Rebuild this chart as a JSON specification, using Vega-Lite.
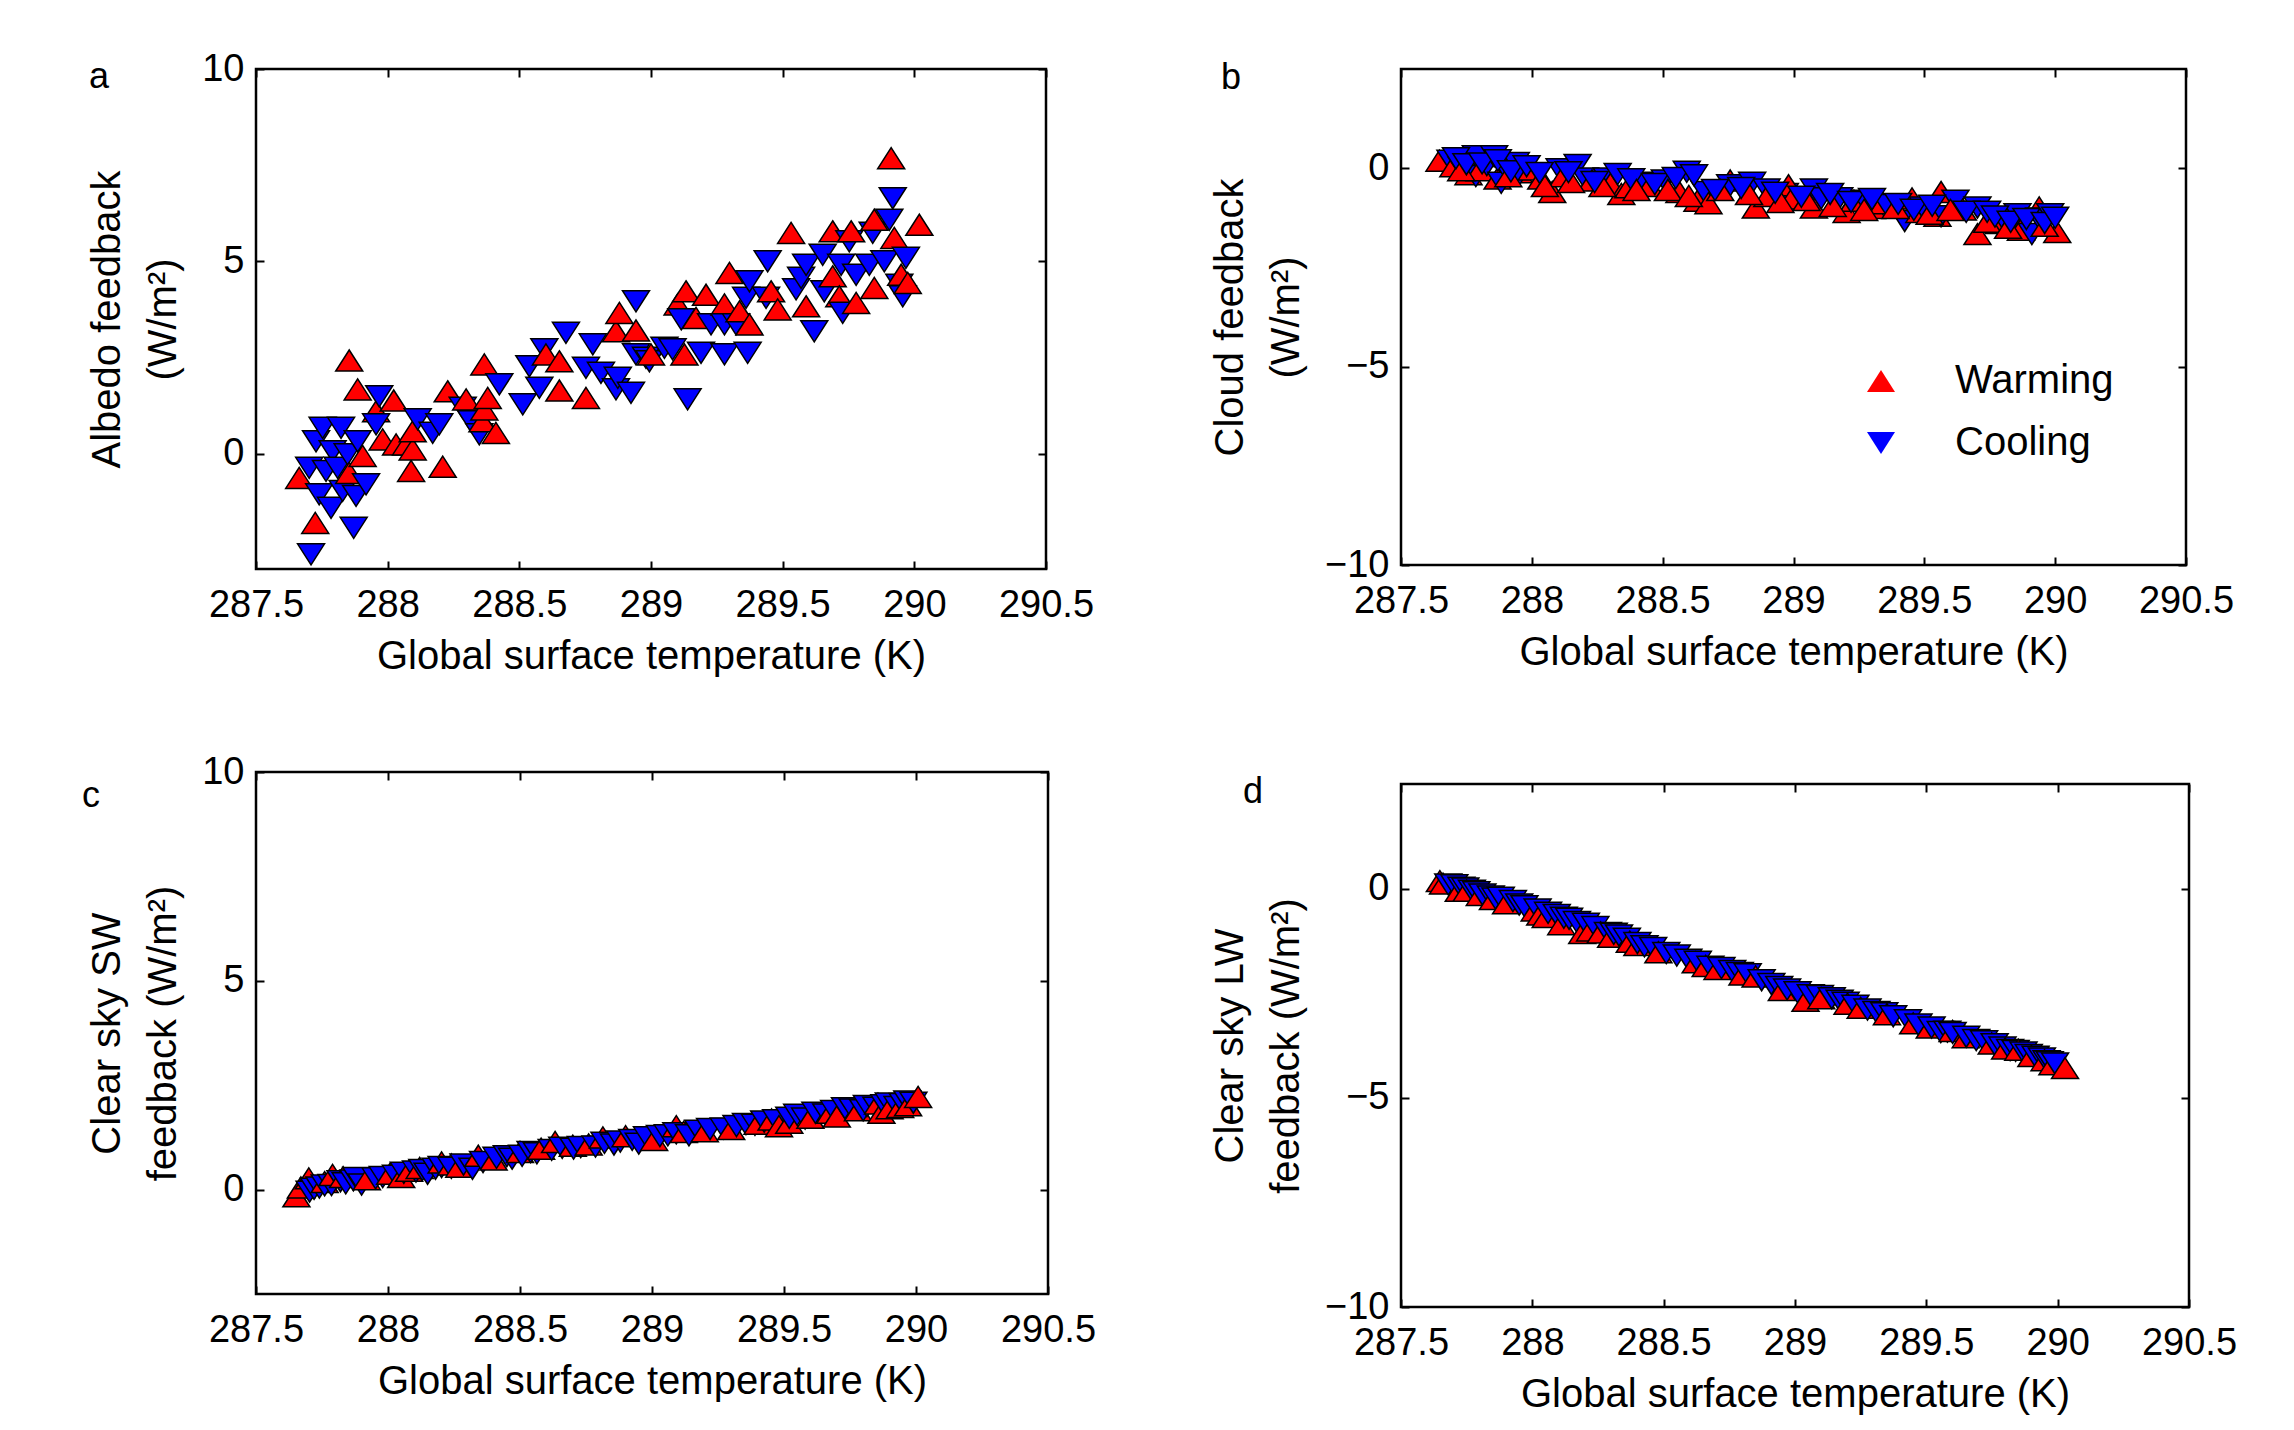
{
"$schema": "https://vega.github.io/schema/vega-lite/v6.json",
"background": "white",
"padding": {"left": 80, "top": 48, "right": 20, "bottom": 10},
"config": {
 "font": "Liberation Sans",
 "view": {"stroke": "black", "strokeWidth": 2.5},
 "axis": {"domain": false, "grid": false, "ticks": true, "tickSize": -8, "tickWidth": 2, "tickColor": "black", "labelFontSize": 38, "labelColor": "black", "labelFont": "Liberation Sans", "labelFlush": false, "labelOverlap": false, "labelBound": false, "titleFontSize": 40, "titleFontWeight": "normal", "titleColor": "black", "titleFont": "Liberation Sans", "titleLineHeight": 56},
 "axisX": {"labelPadding": 25, "titlePadding": 12},
 "axisY": {"labelPadding": 20, "titlePadding": 18},
 "title": {"fontSize": 36, "fontWeight": "normal", "color": "black", "font": "Liberation Sans", "anchor": "start", "frame": "group"}
},
"datasets": {
 "a": [
  {"T":287.664,"F":-0.63,"type":"Warming"},{"T":287.702,"F":-0.37,"type":"Cooling"},{"T":287.709,"F":-2.62,"type":"Cooling"},{"T":287.725,"F":-1.80,"type":"Warming"},{"T":287.728,"F":0.32,"type":"Cooling"},{"T":287.74,"F":-1.06,"type":"Cooling"},{"T":287.753,"F":0.67,"type":"Cooling"},{"T":287.766,"F":-0.45,"type":"Cooling"},{"T":287.785,"F":-1.41,"type":"Cooling"},{"T":287.791,"F":0.06,"type":"Cooling"},{"T":287.81,"F":-0.37,"type":"Cooling"},{"T":287.823,"F":0.67,"type":"Cooling"},{"T":287.829,"F":-0.97,"type":"Cooling"},{"T":287.848,"F":-0.02,"type":"Cooling"},{"T":287.854,"F":-0.50,"type":"Warming"},{"T":287.854,"F":2.42,"type":"Warming"},{"T":287.871,"F":-1.93,"type":"Cooling"},{"T":287.88,"F":-1.10,"type":"Cooling"},{"T":287.886,"F":1.67,"type":"Warming"},{"T":287.886,"F":0.32,"type":"Cooling"},{"T":287.905,"F":-0.06,"type":"Warming"},{"T":287.918,"F":-0.80,"type":"Cooling"},{"T":287.956,"F":1.10,"type":"Warming"},{"T":287.956,"F":0.76,"type":"Cooling"},{"T":287.968,"F":1.49,"type":"Cooling"},{"T":287.981,"F":0.37,"type":"Warming"},{"T":288.023,"F":1.38,"type":"Warming"},{"T":288.032,"F":0.24,"type":"Warming"},{"T":288.07,"F":0.24,"type":"Warming"},{"T":288.089,"F":-0.45,"type":"Warming"},{"T":288.095,"F":0.11,"type":"Warming"},{"T":288.095,"F":0.58,"type":"Warming"},{"T":288.114,"F":0.89,"type":"Cooling"},{"T":288.171,"F":0.54,"type":"Cooling"},{"T":288.196,"F":0.76,"type":"Cooling"},{"T":288.209,"F":-0.34,"type":"Warming"},{"T":288.228,"F":1.62,"type":"Warming"},{"T":288.285,"F":1.19,"type":"Cooling"},{"T":288.298,"F":1.41,"type":"Warming"},{"T":288.317,"F":0.84,"type":"Cooling"},{"T":288.348,"F":0.50,"type":"Cooling"},{"T":288.36,"F":0.84,"type":"Warming"},{"T":288.367,"F":2.32,"type":"Warming"},{"T":288.367,"F":1.15,"type":"Warming"},{"T":288.38,"F":1.45,"type":"Warming"},{"T":288.411,"F":0.54,"type":"Warming"},{"T":288.424,"F":1.80,"type":"Cooling"},{"T":288.513,"F":1.28,"type":"Cooling"},{"T":288.538,"F":2.27,"type":"Cooling"},{"T":288.576,"F":1.71,"type":"Cooling"},{"T":288.595,"F":2.71,"type":"Cooling"},{"T":288.601,"F":2.58,"type":"Warming"},{"T":288.652,"F":2.40,"type":"Warming"},{"T":288.652,"F":1.64,"type":"Warming"},{"T":288.677,"F":3.14,"type":"Cooling"},{"T":288.753,"F":1.45,"type":"Warming"},{"T":288.753,"F":2.23,"type":"Cooling"},{"T":288.779,"F":2.84,"type":"Cooling"},{"T":288.81,"F":2.10,"type":"Cooling"},{"T":288.867,"F":3.18,"type":"Warming"},{"T":288.867,"F":1.67,"type":"Cooling"},{"T":288.874,"F":1.97,"type":"Cooling"},{"T":288.88,"F":3.66,"type":"Warming"},{"T":288.924,"F":1.58,"type":"Cooling"},{"T":288.943,"F":3.20,"type":"Warming"},{"T":288.943,"F":2.58,"type":"Cooling"},{"T":288.943,"F":3.96,"type":"Cooling"},{"T":288.981,"F":2.49,"type":"Cooling"},{"T":288.994,"F":2.40,"type":"Cooling"},{"T":289.0,"F":2.58,"type":"Warming"},{"T":289.051,"F":2.75,"type":"Cooling"},{"T":289.082,"F":2.71,"type":"Cooling"},{"T":289.101,"F":3.88,"type":"Warming"},{"T":289.115,"F":3.49,"type":"Cooling"},{"T":289.127,"F":2.58,"type":"Warming"},{"T":289.133,"F":4.22,"type":"Warming"},{"T":289.139,"F":1.41,"type":"Cooling"},{"T":289.171,"F":3.53,"type":"Warming"},{"T":289.19,"F":2.62,"type":"Cooling"},{"T":289.209,"F":4.13,"type":"Warming"},{"T":289.228,"F":3.36,"type":"Cooling"},{"T":289.279,"F":3.88,"type":"Warming"},{"T":289.279,"F":3.36,"type":"Cooling"},{"T":289.279,"F":2.58,"type":"Cooling"},{"T":289.298,"F":4.70,"type":"Warming"},{"T":289.323,"F":3.36,"type":"Cooling"},{"T":289.336,"F":3.70,"type":"Warming"},{"T":289.361,"F":4.05,"type":"Cooling"},{"T":289.367,"F":2.62,"type":"Cooling"},{"T":289.374,"F":3.36,"type":"Warming"},{"T":289.374,"F":4.48,"type":"Cooling"},{"T":289.437,"F":4.05,"type":"Cooling"},{"T":289.443,"F":5.00,"type":"Cooling"},{"T":289.456,"F":4.22,"type":"Warming"},{"T":289.481,"F":3.75,"type":"Warming"},{"T":289.532,"F":5.74,"type":"Warming"},{"T":289.551,"F":4.27,"type":"Cooling"},{"T":289.57,"F":4.57,"type":"Cooling"},{"T":289.589,"F":3.83,"type":"Warming"},{"T":289.589,"F":4.91,"type":"Cooling"},{"T":289.62,"F":3.18,"type":"Cooling"},{"T":289.652,"F":5.17,"type":"Cooling"},{"T":289.658,"F":4.22,"type":"Cooling"},{"T":289.69,"F":5.78,"type":"Warming"},{"T":289.69,"F":4.61,"type":"Warming"},{"T":289.715,"F":4.09,"type":"Warming"},{"T":289.722,"F":4.91,"type":"Cooling"},{"T":289.728,"F":3.66,"type":"Cooling"},{"T":289.753,"F":5.52,"type":"Cooling"},{"T":289.76,"F":5.78,"type":"Warming"},{"T":289.779,"F":3.92,"type":"Warming"},{"T":289.779,"F":4.65,"type":"Cooling"},{"T":289.829,"F":4.91,"type":"Cooling"},{"T":289.842,"F":5.74,"type":"Cooling"},{"T":289.848,"F":6.08,"type":"Warming"},{"T":289.848,"F":4.31,"type":"Warming"},{"T":289.886,"F":5.00,"type":"Cooling"},{"T":289.905,"F":6.08,"type":"Cooling"},{"T":289.912,"F":7.68,"type":"Warming"},{"T":289.918,"F":6.64,"type":"Cooling"},{"T":289.924,"F":5.61,"type":"Warming"},{"T":289.943,"F":4.39,"type":"Cooling"},{"T":289.95,"F":4.65,"type":"Warming"},{"T":289.956,"F":4.09,"type":"Cooling"},{"T":289.968,"F":5.09,"type":"Cooling"},{"T":289.975,"F":4.44,"type":"Warming"},{"T":290.019,"F":5.95,"type":"Warming"}
 ],
 "b": [
  {"T":287.647,"F":0.19,"type":"Warming"},{"T":287.689,"F":0.19,"type":"Cooling"},{"T":287.70,"F":0.05,"type":"Warming"},{"T":287.731,"F":0.02,"type":"Cooling"},{"T":287.758,"F":-0.15,"type":"Warming"},{"T":287.786,"F":0.30,"type":"Cooling"},{"T":287.786,"F":-0.20,"type":"Cooling"},{"T":287.80,"F":-0.05,"type":"Warming"},{"T":287.828,"F":0.08,"type":"Cooling"},{"T":287.856,"F":0.30,"type":"Cooling"},{"T":287.869,"F":-0.26,"type":"Warming"},{"T":287.883,"F":-0.37,"type":"Cooling"},{"T":287.897,"F":0.02,"type":"Cooling"},{"T":287.939,"F":0.13,"type":"Cooling"},{"T":287.95,"F":-0.10,"type":"Warming"},{"T":287.953,"F":-0.15,"type":"Cooling"},{"T":288.0,"F":-0.03,"type":"Warming"},{"T":288.036,"F":-0.26,"type":"Warming"},{"T":288.078,"F":-0.60,"type":"Warming"},{"T":288.106,"F":-0.03,"type":"Cooling"},{"T":288.12,"F":-0.20,"type":"Warming"},{"T":288.175,"F":0.08,"type":"Cooling"},{"T":288.203,"F":-0.26,"type":"Cooling"},{"T":288.23,"F":-0.31,"type":"Warming"},{"T":288.286,"F":-0.26,"type":"Cooling"},{"T":288.30,"F":-0.40,"type":"Warming"},{"T":288.328,"F":-0.15,"type":"Cooling"},{"T":288.342,"F":-0.65,"type":"Warming"},{"T":288.369,"F":-0.48,"type":"Warming"},{"T":288.411,"F":-0.37,"type":"Cooling"},{"T":288.45,"F":-0.45,"type":"Warming"},{"T":288.508,"F":-0.31,"type":"Cooling"},{"T":288.564,"F":-0.60,"type":"Warming"},{"T":288.592,"F":-0.09,"type":"Cooling"},{"T":288.633,"F":-0.82,"type":"Warming"},{"T":288.661,"F":-0.60,"type":"Cooling"},{"T":288.675,"F":-0.88,"type":"Warming"},{"T":288.758,"F":-0.31,"type":"Warming"},{"T":288.758,"F":-0.43,"type":"Cooling"},{"T":288.842,"F":-0.37,"type":"Cooling"},{"T":288.856,"F":-0.99,"type":"Warming"},{"T":288.897,"F":-0.54,"type":"Cooling"},{"T":288.90,"F":-0.70,"type":"Warming"},{"T":288.967,"F":-0.65,"type":"Cooling"},{"T":288.981,"F":-0.43,"type":"Warming"},{"T":288.994,"F":-0.76,"type":"Warming"},{"T":289.078,"F":-0.99,"type":"Warming"},{"T":289.078,"F":-0.54,"type":"Cooling"},{"T":289.106,"F":-0.76,"type":"Cooling"},{"T":289.175,"F":-0.76,"type":"Cooling"},{"T":289.203,"F":-1.10,"type":"Warming"},{"T":289.231,"F":-0.82,"type":"Warming"},{"T":289.272,"F":-0.82,"type":"Cooling"},{"T":289.30,"F":-1.00,"type":"Warming"},{"T":289.342,"F":-0.88,"type":"Warming"},{"T":289.356,"F":-0.93,"type":"Cooling"},{"T":289.425,"F":-1.33,"type":"Cooling"},{"T":289.453,"F":-0.76,"type":"Warming"},{"T":289.481,"F":-1.10,"type":"Warming"},{"T":289.494,"F":-0.99,"type":"Cooling"},{"T":289.55,"F":-1.20,"type":"Warming"},{"T":289.564,"F":-0.60,"type":"Warming"},{"T":289.564,"F":-1.21,"type":"Cooling"},{"T":289.619,"F":-0.82,"type":"Cooling"},{"T":289.647,"F":-1.04,"type":"Warming"},{"T":289.703,"F":-1.66,"type":"Warming"},{"T":289.703,"F":-0.99,"type":"Cooling"},{"T":289.786,"F":-1.38,"type":"Warming"},{"T":289.80,"F":-1.27,"type":"Cooling"},{"T":289.85,"F":-1.20,"type":"Warming"},{"T":289.856,"F":-1.16,"type":"Cooling"},{"T":289.869,"F":-1.55,"type":"Warming"},{"T":289.911,"F":-1.66,"type":"Cooling"},{"T":289.939,"F":-0.99,"type":"Warming"},{"T":289.939,"F":-1.27,"type":"Cooling"},{"T":289.981,"F":-1.16,"type":"Cooling"},{"T":290.008,"F":-1.61,"type":"Warming"},
  {"T":287.73,"F":-0.05,"type":"Warming"},{"T":287.71,"F":0.25,"type":"Cooling"},{"T":287.75,"F":0.10,"type":"Cooling"},{"T":287.91,"F":-0.20,"type":"Warming"},{"T":287.81,"F":0.12,"type":"Cooling"},{"T":287.87,"F":0.20,"type":"Cooling"},{"T":288.05,"F":-0.45,"type":"Warming"},{"T":287.92,"F":-0.08,"type":"Cooling"},{"T":287.98,"F":0.05,"type":"Cooling"},{"T":288.15,"F":-0.35,"type":"Warming"},{"T":288.03,"F":-0.12,"type":"Cooling"},{"T":288.14,"F":-0.10,"type":"Cooling"},{"T":288.27,"F":-0.45,"type":"Warming"},{"T":288.24,"F":-0.35,"type":"Cooling"},{"T":288.38,"F":-0.28,"type":"Cooling"},{"T":288.40,"F":-0.55,"type":"Warming"},{"T":288.47,"F":-0.40,"type":"Cooling"},{"T":288.52,"F":-0.55,"type":"Warming"},{"T":288.55,"F":-0.25,"type":"Cooling"},{"T":288.60,"F":-0.70,"type":"Warming"},{"T":288.62,"F":-0.18,"type":"Cooling"},{"T":288.72,"F":-0.55,"type":"Warming"},{"T":288.70,"F":-0.55,"type":"Cooling"},{"T":288.83,"F":-0.65,"type":"Warming"},{"T":288.80,"F":-0.50,"type":"Cooling"},{"T":288.95,"F":-0.85,"type":"Warming"},{"T":288.93,"F":-0.62,"type":"Cooling"},{"T":289.05,"F":-0.80,"type":"Warming"},{"T":289.03,"F":-0.72,"type":"Cooling"},{"T":289.15,"F":-0.95,"type":"Warming"},{"T":289.14,"F":-0.65,"type":"Cooling"},{"T":289.27,"F":-1.05,"type":"Warming"},{"T":289.22,"F":-0.85,"type":"Cooling"},{"T":289.30,"F":-0.78,"type":"Cooling"},{"T":289.39,"F":-1.00,"type":"Warming"},{"T":289.40,"F":-0.90,"type":"Cooling"},{"T":289.52,"F":-1.15,"type":"Warming"},{"T":289.46,"F":-1.05,"type":"Cooling"},{"T":289.53,"F":-0.95,"type":"Cooling"},{"T":289.60,"F":-1.05,"type":"Warming"},{"T":289.66,"F":-1.10,"type":"Cooling"},{"T":289.74,"F":-1.35,"type":"Warming"},{"T":289.74,"F":-1.10,"type":"Cooling"},{"T":289.77,"F":-1.22,"type":"Cooling"},{"T":289.82,"F":-1.50,"type":"Warming"},{"T":289.83,"F":-1.35,"type":"Cooling"},{"T":289.89,"F":-1.28,"type":"Cooling"},{"T":289.96,"F":-1.45,"type":"Warming"},{"T":289.96,"F":-1.38,"type":"Cooling"},{"T":290.0,"F":-1.25,"type":"Cooling"}
 ],
 "c": [
  {"T":287.653,"F":-0.16,"type":"Warming"},{"T":287.67,"F":0.05,"type":"Warming"},{"T":287.70,"F":0.27,"type":"Warming"},{"T":287.703,"F":-0.05,"type":"Cooling"},{"T":287.72,"F":0.02,"type":"Cooling"},{"T":287.74,"F":0.05,"type":"Cooling"},{"T":287.76,"F":0.18,"type":"Warming"},{"T":287.76,"F":0.10,"type":"Cooling"},{"T":287.786,"F":0.11,"type":"Cooling"},{"T":287.79,"F":0.35,"type":"Warming"},{"T":287.82,"F":0.20,"type":"Cooling"},{"T":287.83,"F":0.30,"type":"Warming"},{"T":287.84,"F":0.15,"type":"Cooling"},{"T":287.869,"F":0.22,"type":"Cooling"},{"T":287.88,"F":0.28,"type":"Cooling"},{"T":287.90,"F":0.12,"type":"Cooling"},{"T":287.92,"F":0.25,"type":"Warming"},{"T":287.953,"F":0.27,"type":"Cooling"},{"T":287.98,"F":0.30,"type":"Cooling"},{"T":288.008,"F":0.38,"type":"Warming"},{"T":288.03,"F":0.33,"type":"Cooling"},{"T":288.05,"F":0.30,"type":"Warming"},{"T":288.06,"F":0.40,"type":"Cooling"},{"T":288.08,"F":0.45,"type":"Warming"},{"T":288.106,"F":0.43,"type":"Cooling"},{"T":288.12,"F":0.52,"type":"Warming"},{"T":288.13,"F":0.47,"type":"Cooling"},{"T":288.15,"F":0.38,"type":"Cooling"},{"T":288.18,"F":0.50,"type":"Cooling"},{"T":288.203,"F":0.65,"type":"Warming"},{"T":288.203,"F":0.54,"type":"Cooling"},{"T":288.24,"F":0.60,"type":"Warming"},{"T":288.24,"F":0.52,"type":"Cooling"},{"T":288.27,"F":0.55,"type":"Warming"},{"T":288.286,"F":0.60,"type":"Cooling"},{"T":288.32,"F":0.50,"type":"Cooling"},{"T":288.342,"F":0.81,"type":"Warming"},{"T":288.36,"F":0.66,"type":"Cooling"},{"T":288.40,"F":0.72,"type":"Warming"},{"T":288.411,"F":0.76,"type":"Cooling"},{"T":288.45,"F":0.80,"type":"Cooling"},{"T":288.47,"F":0.74,"type":"Cooling"},{"T":288.50,"F":0.90,"type":"Warming"},{"T":288.508,"F":0.81,"type":"Cooling"},{"T":288.54,"F":0.90,"type":"Cooling"},{"T":288.564,"F":0.87,"type":"Cooling"},{"T":288.58,"F":0.98,"type":"Warming"},{"T":288.62,"F":0.95,"type":"Cooling"},{"T":288.633,"F":1.14,"type":"Warming"},{"T":288.66,"F":1.00,"type":"Cooling"},{"T":288.70,"F":1.05,"type":"Warming"},{"T":288.703,"F":0.98,"type":"Cooling"},{"T":288.73,"F":1.02,"type":"Cooling"},{"T":288.76,"F":1.08,"type":"Warming"},{"T":288.786,"F":1.03,"type":"Cooling"},{"T":288.814,"F":1.25,"type":"Warming"},{"T":288.82,"F":1.12,"type":"Cooling"},{"T":288.856,"F":1.08,"type":"Cooling"},{"T":288.88,"F":1.15,"type":"Cooling"},{"T":288.90,"F":1.28,"type":"Warming"},{"T":288.925,"F":1.19,"type":"Cooling"},{"T":288.95,"F":1.10,"type":"Cooling"},{"T":288.981,"F":1.25,"type":"Cooling"},{"T":289.008,"F":1.19,"type":"Warming"},{"T":289.03,"F":1.28,"type":"Cooling"},{"T":289.06,"F":1.30,"type":"Cooling"},{"T":289.092,"F":1.52,"type":"Warming"},{"T":289.092,"F":1.35,"type":"Cooling"},{"T":289.12,"F":1.38,"type":"Warming"},{"T":289.14,"F":1.30,"type":"Cooling"},{"T":289.175,"F":1.41,"type":"Cooling"},{"T":289.20,"F":1.40,"type":"Warming"},{"T":289.22,"F":1.45,"type":"Cooling"},{"T":289.272,"F":1.46,"type":"Cooling"},{"T":289.30,"F":1.45,"type":"Warming"},{"T":289.32,"F":1.52,"type":"Cooling"},{"T":289.356,"F":1.57,"type":"Cooling"},{"T":289.39,"F":1.55,"type":"Cooling"},{"T":289.40,"F":1.58,"type":"Warming"},{"T":289.425,"F":1.63,"type":"Cooling"},{"T":289.453,"F":1.68,"type":"Warming"},{"T":289.47,"F":1.66,"type":"Cooling"},{"T":289.481,"F":1.52,"type":"Warming"},{"T":289.52,"F":1.60,"type":"Warming"},{"T":289.52,"F":1.72,"type":"Cooling"},{"T":289.55,"F":1.79,"type":"Cooling"},{"T":289.58,"F":1.70,"type":"Cooling"},{"T":289.60,"F":1.72,"type":"Warming"},{"T":289.619,"F":1.84,"type":"Cooling"},{"T":289.66,"F":1.80,"type":"Cooling"},{"T":289.675,"F":1.84,"type":"Warming"},{"T":289.69,"F":1.88,"type":"Cooling"},{"T":289.70,"F":1.75,"type":"Warming"},{"T":289.731,"F":1.95,"type":"Cooling"},{"T":289.76,"F":1.92,"type":"Cooling"},{"T":289.78,"F":1.90,"type":"Warming"},{"T":289.80,"F":1.90,"type":"Cooling"},{"T":289.814,"F":2.00,"type":"Cooling"},{"T":289.85,"F":1.96,"type":"Cooling"},{"T":289.856,"F":2.06,"type":"Warming"},{"T":289.869,"F":1.84,"type":"Warming"},{"T":289.88,"F":2.02,"type":"Cooling"},{"T":289.897,"F":2.06,"type":"Cooling"},{"T":289.90,"F":1.95,"type":"Warming"},{"T":289.93,"F":1.98,"type":"Cooling"},{"T":289.94,"F":1.98,"type":"Warming"},{"T":289.95,"F":2.05,"type":"Cooling"},{"T":289.967,"F":2.11,"type":"Cooling"},{"T":289.97,"F":2.02,"type":"Warming"},{"T":289.99,"F":2.08,"type":"Cooling"},{"T":290.008,"F":2.22,"type":"Warming"}
 ],
 "d": [
  {"T":287.648,"F":0.18,"type":"Warming"},{"T":287.66,"F":0.12,"type":"Warming"},{"T":287.68,"F":0.10,"type":"Cooling"},{"T":287.703,"F":0.08,"type":"Cooling"},{"T":287.72,"F":-0.05,"type":"Warming"},{"T":287.73,"F":0.02,"type":"Cooling"},{"T":287.745,"F":0.0,"type":"Cooling"},{"T":287.75,"F":-0.05,"type":"Warming"},{"T":287.77,"F":-0.05,"type":"Cooling"},{"T":287.787,"F":-0.09,"type":"Cooling"},{"T":287.80,"F":-0.15,"type":"Warming"},{"T":287.81,"F":-0.14,"type":"Cooling"},{"T":287.842,"F":-0.19,"type":"Cooling"},{"T":287.85,"F":-0.25,"type":"Warming"},{"T":287.86,"F":-0.24,"type":"Cooling"},{"T":287.88,"F":-0.22,"type":"Cooling"},{"T":287.90,"F":-0.35,"type":"Warming"},{"T":287.926,"F":-0.30,"type":"Cooling"},{"T":287.95,"F":-0.38,"type":"Cooling"},{"T":287.97,"F":-0.42,"type":"Cooling"},{"T":288.009,"F":-0.52,"type":"Warming"},{"T":288.02,"F":-0.50,"type":"Cooling"},{"T":288.03,"F":-0.62,"type":"Warming"},{"T":288.051,"F":-0.68,"type":"Warming"},{"T":288.06,"F":-0.58,"type":"Cooling"},{"T":288.093,"F":-0.63,"type":"Cooling"},{"T":288.11,"F":-0.85,"type":"Warming"},{"T":288.12,"F":-0.70,"type":"Cooling"},{"T":288.14,"F":-0.72,"type":"Cooling"},{"T":288.17,"F":-0.80,"type":"Cooling"},{"T":288.19,"F":-1.06,"type":"Warming"},{"T":288.204,"F":-0.84,"type":"Cooling"},{"T":288.22,"F":-1.00,"type":"Warming"},{"T":288.24,"F":-0.92,"type":"Cooling"},{"T":288.26,"F":-1.05,"type":"Warming"},{"T":288.288,"F":-1.06,"type":"Cooling"},{"T":288.30,"F":-1.15,"type":"Warming"},{"T":288.31,"F":-1.08,"type":"Cooling"},{"T":288.33,"F":-1.12,"type":"Cooling"},{"T":288.36,"F":-1.20,"type":"Cooling"},{"T":288.371,"F":-1.27,"type":"Warming"},{"T":288.40,"F":-1.35,"type":"Warming"},{"T":288.40,"F":-1.30,"type":"Cooling"},{"T":288.427,"F":-1.38,"type":"Cooling"},{"T":288.46,"F":-1.42,"type":"Cooling"},{"T":288.48,"F":-1.52,"type":"Warming"},{"T":288.51,"F":-1.54,"type":"Cooling"},{"T":288.55,"F":-1.60,"type":"Cooling"},{"T":288.594,"F":-1.70,"type":"Cooling"},{"T":288.622,"F":-1.76,"type":"Warming"},{"T":288.63,"F":-1.75,"type":"Cooling"},{"T":288.66,"F":-1.85,"type":"Warming"},{"T":288.678,"F":-1.87,"type":"Cooling"},{"T":288.705,"F":-1.92,"type":"Warming"},{"T":288.72,"F":-1.90,"type":"Cooling"},{"T":288.761,"F":-1.97,"type":"Cooling"},{"T":288.79,"F":-2.02,"type":"Cooling"},{"T":288.80,"F":-2.05,"type":"Warming"},{"T":288.82,"F":-2.05,"type":"Cooling"},{"T":288.85,"F":-2.10,"type":"Warming"},{"T":288.873,"F":-2.19,"type":"Cooling"},{"T":288.91,"F":-2.28,"type":"Cooling"},{"T":288.94,"F":-2.35,"type":"Cooling"},{"T":288.95,"F":-2.42,"type":"Warming"},{"T":288.97,"F":-2.41,"type":"Cooling"},{"T":289.01,"F":-2.48,"type":"Cooling"},{"T":289.04,"F":-2.68,"type":"Warming"},{"T":289.06,"F":-2.55,"type":"Cooling"},{"T":289.095,"F":-2.57,"type":"Cooling"},{"T":289.10,"F":-2.62,"type":"Warming"},{"T":289.14,"F":-2.62,"type":"Cooling"},{"T":289.17,"F":-2.68,"type":"Cooling"},{"T":289.193,"F":-2.73,"type":"Cooling"},{"T":289.20,"F":-2.75,"type":"Warming"},{"T":289.23,"F":-2.80,"type":"Cooling"},{"T":289.25,"F":-2.85,"type":"Warming"},{"T":289.276,"F":-2.89,"type":"Cooling"},{"T":289.31,"F":-2.95,"type":"Cooling"},{"T":289.34,"F":-2.98,"type":"Cooling"},{"T":289.35,"F":-3.00,"type":"Warming"},{"T":289.374,"F":-3.05,"type":"Cooling"},{"T":289.43,"F":-3.15,"type":"Cooling"},{"T":289.45,"F":-3.22,"type":"Warming"},{"T":289.47,"F":-3.25,"type":"Cooling"},{"T":289.513,"F":-3.32,"type":"Warming"},{"T":289.52,"F":-3.32,"type":"Cooling"},{"T":289.555,"F":-3.43,"type":"Cooling"},{"T":289.58,"F":-3.42,"type":"Cooling"},{"T":289.60,"F":-3.40,"type":"Warming"},{"T":289.60,"F":-3.45,"type":"Cooling"},{"T":289.65,"F":-3.55,"type":"Warming"},{"T":289.652,"F":-3.54,"type":"Cooling"},{"T":289.69,"F":-3.62,"type":"Cooling"},{"T":289.72,"F":-3.65,"type":"Cooling"},{"T":289.749,"F":-3.70,"type":"Warming"},{"T":289.76,"F":-3.72,"type":"Cooling"},{"T":289.79,"F":-3.80,"type":"Cooling"},{"T":289.80,"F":-3.82,"type":"Warming"},{"T":289.819,"F":-3.86,"type":"Cooling"},{"T":289.84,"F":-3.88,"type":"Cooling"},{"T":289.85,"F":-3.85,"type":"Warming"},{"T":289.87,"F":-3.92,"type":"Cooling"},{"T":289.89,"F":-3.98,"type":"Cooling"},{"T":289.90,"F":-4.00,"type":"Warming"},{"T":289.916,"F":-4.02,"type":"Cooling"},{"T":289.94,"F":-4.06,"type":"Cooling"},{"T":289.95,"F":-4.10,"type":"Warming"},{"T":289.958,"F":-4.13,"type":"Cooling"},{"T":289.97,"F":-4.15,"type":"Cooling"},{"T":289.98,"F":-4.20,"type":"Warming"},{"T":289.99,"F":-4.18,"type":"Cooling"},{"T":290.028,"F":-4.29,"type":"Warming"}
 ]
},
"spacing": 1145,
"bounds": "flush",
"resolve": {"scale": {"fill": "independent", "shape": "independent"}, "legend": {"fill": "independent", "shape": "independent"}},
"hconcat": [
 {
  "spacing": 203, "bounds": "flush",
  "resolve": {"scale": {"fill": "independent", "shape": "independent"}, "legend": {"fill": "independent", "shape": "independent"}},
  "vconcat": [
   {
    "width": 790, "height": 500, "data": {"name": "a"},
    "title": {"text": "a", "dx": -167, "dy": 50},
    "resolve": {"axis": {"x": "independent", "y": "independent"}},
    "layer": [
     {"mark": {"type": "point", "filled": true, "opacity": 1, "size": 729, "stroke": "black", "strokeWidth": 1.5},
      "encoding": {
       "x": {"field": "T", "type": "quantitative", "scale": {"domain": [287.5, 290.5], "nice": false, "zero": false}, "axis": {"orient": "bottom", "values": [287.5, 288, 288.5, 289, 289.5, 290, 290.5], "format": "~g", "title": "Global surface temperature (K)"}},
       "y": {"field": "F", "type": "quantitative", "scale": {"domain": [-3, 10], "nice": false, "zero": false}, "axis": {"orient": "left", "values": [0, 5, 10], "format": "d", "title": ["Albedo feedback", "(W/m²)"]}},
       "shape": {"field": "type", "type": "nominal", "scale": {"domain": ["Warming", "Cooling"], "range": ["M0,-0.78L1,0.78L-1,0.78Z", "M0,0.78L1,-0.78L-1,-0.78Z"]}, "legend": null},
       "fill": {"field": "type", "type": "nominal", "scale": {"domain": ["Warming", "Cooling"], "range": ["#ff0000", "#0000ff"]}, "legend": null}
      }},
     {"mark": {"type": "point", "opacity": 0},
      "encoding": {
       "x": {"field": "T", "type": "quantitative", "scale": {"domain": [287.5, 290.5], "nice": false, "zero": false}, "axis": {"orient": "top", "values": [287.5, 288, 288.5, 289, 289.5, 290, 290.5], "labels": false, "title": null}},
       "y": {"field": "F", "type": "quantitative", "scale": {"domain": [-3, 10], "nice": false, "zero": false}, "axis": {"orient": "right", "values": [0, 5, 10], "labels": false, "title": null}}
      }}
    ]
   },
   {
    "width": 792, "height": 522, "data": {"name": "c"},
    "title": {"text": "c", "dx": -174, "dy": 66},
    "resolve": {"axis": {"x": "independent", "y": "independent"}},
    "layer": [
     {"mark": {"type": "point", "filled": true, "opacity": 1, "size": 729, "stroke": "black", "strokeWidth": 1.5},
      "encoding": {
       "x": {"field": "T", "type": "quantitative", "scale": {"domain": [287.5, 290.5], "nice": false, "zero": false}, "axis": {"orient": "bottom", "values": [287.5, 288, 288.5, 289, 289.5, 290, 290.5], "format": "~g", "title": "Global surface temperature (K)"}},
       "y": {"field": "F", "type": "quantitative", "scale": {"domain": [-2.5, 10], "nice": false, "zero": false}, "axis": {"orient": "left", "values": [0, 5, 10], "format": "d", "title": ["Clear sky SW", "feedback (W/m²)"]}},
       "shape": {"field": "type", "type": "nominal", "scale": {"domain": ["Warming", "Cooling"], "range": ["M0,-0.78L1,0.78L-1,0.78Z", "M0,0.78L1,-0.78L-1,-0.78Z"]}, "legend": null},
       "fill": {"field": "type", "type": "nominal", "scale": {"domain": ["Warming", "Cooling"], "range": ["#ff0000", "#0000ff"]}, "legend": null}
      }},
     {"mark": {"type": "point", "opacity": 0},
      "encoding": {
       "x": {"field": "T", "type": "quantitative", "scale": {"domain": [287.5, 290.5], "nice": false, "zero": false}, "axis": {"orient": "top", "values": [287.5, 288, 288.5, 289, 289.5, 290, 290.5], "labels": false, "title": null}},
       "y": {"field": "F", "type": "quantitative", "scale": {"domain": [-2.5, 10], "nice": false, "zero": false}, "axis": {"orient": "right", "values": [0, 5, 10], "labels": false, "title": null}}
      }}
    ]
   }
  ]
 },
 {
  "spacing": 219, "bounds": "flush",
  "resolve": {"scale": {"fill": "independent", "shape": "independent"}, "legend": {"fill": "independent", "shape": "independent"}},
  "vconcat": [
   {
    "width": 785, "height": 496, "data": {"name": "b"},
    "title": {"text": "b", "dx": -180, "dy": 33},
    "resolve": {"axis": {"x": "independent", "y": "independent"}},
    "layer": [
     {"mark": {"type": "point", "filled": true, "opacity": 1, "size": 729, "stroke": "black", "strokeWidth": 1.5},
      "encoding": {
       "x": {"field": "T", "type": "quantitative", "scale": {"domain": [287.5, 290.5], "nice": false, "zero": false}, "axis": {"orient": "bottom", "values": [287.5, 288, 288.5, 289, 289.5, 290, 290.5], "format": "~g", "title": "Global surface temperature (K)"}},
       "y": {"field": "F", "type": "quantitative", "scale": {"domain": [-10, 2.5], "nice": false, "zero": false}, "axis": {"orient": "left", "values": [-10, -5, 0], "format": "d", "title": ["Cloud feedback", "(W/m²)"]}},
       "shape": {"field": "type", "type": "nominal", "scale": {"domain": ["Warming", "Cooling"], "range": ["M0,-0.78L1,0.78L-1,0.78Z", "M0,0.78L1,-0.78L-1,-0.78Z"]}, "legend": {"orient": "none", "legendX": 460, "legendY": 292, "title": null, "labelFontSize": 40, "labelColor": "black", "labelFont": "Liberation Sans", "symbolSize": 784, "symbolStrokeColor": "black", "symbolStrokeWidth": 1.5, "symbolOpacity": 1, "labelOffset": 54, "rowPadding": 22, "padding": 0}},
       "fill": {"field": "type", "type": "nominal", "scale": {"domain": ["Warming", "Cooling"], "range": ["#ff0000", "#0000ff"]}, "legend": {"orient": "none", "legendX": 460, "legendY": 292, "title": null, "labelFontSize": 40, "labelColor": "black", "labelFont": "Liberation Sans", "symbolSize": 784, "symbolStrokeColor": "black", "symbolStrokeWidth": 1.5, "symbolOpacity": 1, "labelOffset": 54, "rowPadding": 22, "padding": 0}}
      }},
     {"mark": {"type": "point", "opacity": 0},
      "encoding": {
       "x": {"field": "T", "type": "quantitative", "scale": {"domain": [287.5, 290.5], "nice": false, "zero": false}, "axis": {"orient": "top", "values": [287.5, 288, 288.5, 289, 289.5, 290, 290.5], "labels": false, "title": null}},
       "y": {"field": "F", "type": "quantitative", "scale": {"domain": [-10, 2.5], "nice": false, "zero": false}, "axis": {"orient": "right", "values": [-10, -5, 0], "labels": false, "title": null}}
      }}
    ]
   },
   {
    "width": 788, "height": 523, "data": {"name": "d"},
    "title": {"text": "d", "dx": -158, "dy": 32},
    "resolve": {"axis": {"x": "independent", "y": "independent"}},
    "layer": [
     {"mark": {"type": "point", "filled": true, "opacity": 1, "size": 729, "stroke": "black", "strokeWidth": 1.5},
      "encoding": {
       "x": {"field": "T", "type": "quantitative", "scale": {"domain": [287.5, 290.5], "nice": false, "zero": false}, "axis": {"orient": "bottom", "values": [287.5, 288, 288.5, 289, 289.5, 290, 290.5], "format": "~g", "title": "Global surface temperature (K)"}},
       "y": {"field": "F", "type": "quantitative", "scale": {"domain": [-10, 2.5], "nice": false, "zero": false}, "axis": {"orient": "left", "values": [-10, -5, 0], "format": "d", "title": ["Clear sky LW", "feedback (W/m²)"]}},
       "shape": {"field": "type", "type": "nominal", "scale": {"domain": ["Warming", "Cooling"], "range": ["M0,-0.78L1,0.78L-1,0.78Z", "M0,0.78L1,-0.78L-1,-0.78Z"]}, "legend": null},
       "fill": {"field": "type", "type": "nominal", "scale": {"domain": ["Warming", "Cooling"], "range": ["#ff0000", "#0000ff"]}, "legend": null}
      }},
     {"mark": {"type": "point", "opacity": 0},
      "encoding": {
       "x": {"field": "T", "type": "quantitative", "scale": {"domain": [287.5, 290.5], "nice": false, "zero": false}, "axis": {"orient": "top", "values": [287.5, 288, 288.5, 289, 289.5, 290, 290.5], "labels": false, "title": null}},
       "y": {"field": "F", "type": "quantitative", "scale": {"domain": [-10, 2.5], "nice": false, "zero": false}, "axis": {"orient": "right", "values": [-10, -5, 0], "labels": false, "title": null}}
      }}
    ]
   }
  ]
 }
]
}
